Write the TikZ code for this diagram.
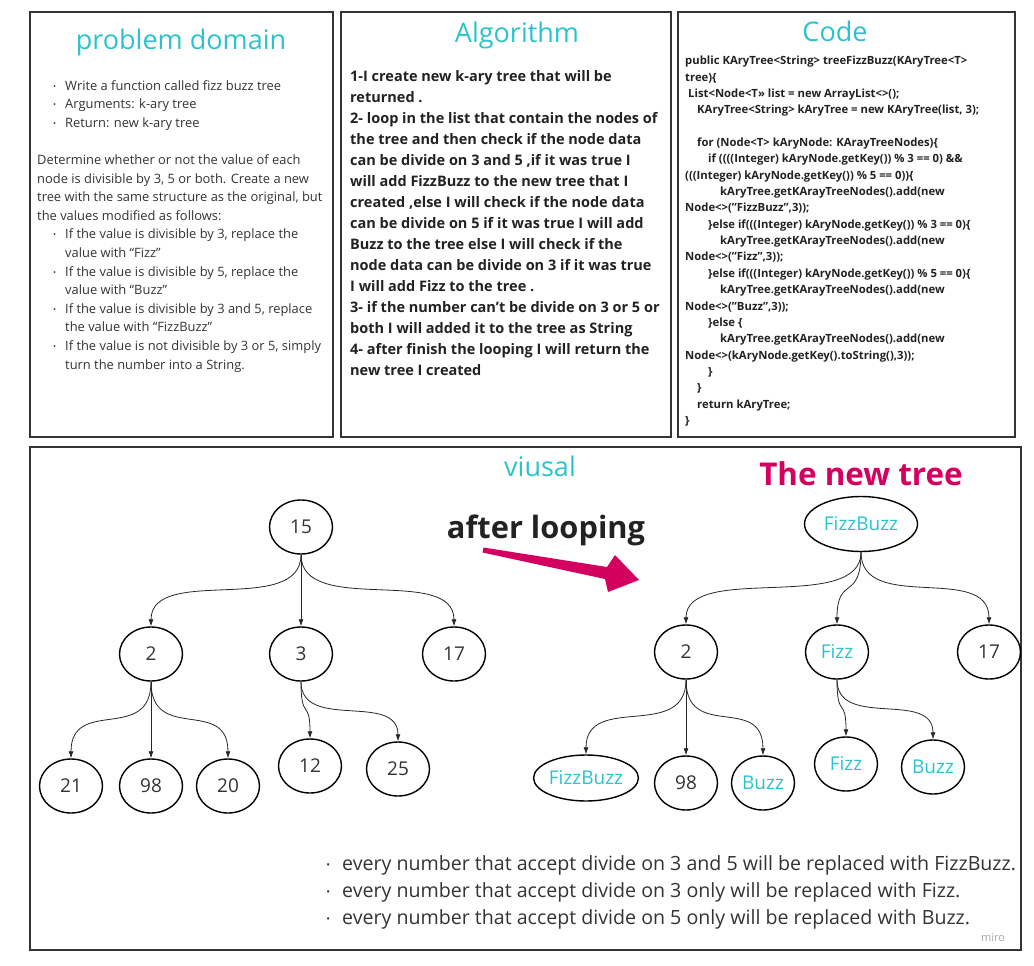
\documentclass[tikz,border=0pt]{standalone}
\usepackage{fontspec}
\setmainfont{Open Sans}
\usetikzlibrary{arrows.meta,shapes.geometric}
\definecolor{titleteal}{HTML}{2BC3CB}
\definecolor{newtreered}{HTML}{D4005F}
\definecolor{inkgray}{HTML}{333333}
\definecolor{inkdark}{HTML}{222222}
\newcommand{\pdbul}{\hspace*{28pt}\llap{\raisebox{1pt}{\fontsize{8}{8}\selectfont •}\hspace{9pt}}}
\newcommand{\nbul}{\llap{\raisebox{2pt}{\fontsize{10}{10}\selectfont •}\hspace{12pt}}}

\begin{document}
\begin{tikzpicture}[
  x=1pt, y=-1pt,
  panel/.style={draw=inkgray, line width=1.6pt},
  paneltitle/.style={font=\fontsize{27}{30}\selectfont, text=titleteal, inner sep=0},
  bodytext/.style={anchor=north west, align=left, inner sep=0, text=inkgray},
  tnode/.style={ellipse, draw=black, line width=1.4pt, minimum width=63pt, minimum height=54pt, inner sep=0, font=\fontsize{19}{22}\selectfont, text=inkgray},
  fbnode/.style={tnode, text=titleteal},
  edge/.style={-{Latex[length=7pt,width=5pt]}, line width=0.8pt, black!85},
  curved/.style={edge, out=-90, in=90, out distance=#1, in distance=#1},
  curved/.default=62
]
\useasboundingbox (0,0) rectangle (1034,966);

% panels
\draw[panel] (30,12) rectangle (333,437);
\draw[panel] (341,12) rectangle (671,437);
\draw[panel] (678,12) rectangle (1015,437);
\draw[panel] (30,447) rectangle (1021,950);

% problem domain
\node[paneltitle] (pdtitle) at (181,42) {problem domain};
\node[bodytext, font=\fontsize{12.9}{18.6}\selectfont] (pdtext) at (37,80) {%
\pdbul Write a function called fizz buzz tree\\
\pdbul Arguments: k-ary tree\\
\pdbul Return: new k-ary tree\\[18.6pt]
Determine whether or not the value of each\\
node is divisible by 3, 5 or both. Create a new\\
tree with the same structure as the original, but\\
the values modified as follows:\\
\pdbul If the value is divisible by 3, replace the\\
\hspace*{28pt}value with “Fizz”\\
\pdbul If the value is divisible by 5, replace the\\
\hspace*{28pt}value with “Buzz”\\
\pdbul If the value is divisible by 3 and 5, replace\\
\hspace*{28pt}the value with “FizzBuzz”\\
\pdbul If the value is not divisible by 3 or 5, simply\\
\hspace*{28pt}turn the number into a String.};

% algorithm
\node[paneltitle] (algtitle) at (517,35) {Algorithm};
\node[bodytext, text=inkdark, font=\bfseries\fontsize{14.5}{21}\selectfont] (algtext) at (350,70) {%
1-I create new k-ary tree that will be\\
returned .\\
2- loop in the list that contain the nodes of\\
the tree and then check if the  node data\\
can be divide on 3 and 5 ,if it was true  I\\
will add FizzBuzz to the new tree that I\\
created ,else I will check if the node data\\
can be divide on 5  if it was true  I will add\\
Buzz to the tree else I will check if the\\
node data can be divide on 3 if it was true\\
I will add Fizz to the tree .\\
3- if the number can't be divide on 3 or 5 or\\
both I will added it to the tree as String\\
4- after finish the looping I will return the\\
new tree I created};

% code
\node[paneltitle] (codetitle) at (835,31) {Code};
\node[bodytext, text=inkdark, font=\bfseries\fontsize{11.3}{16.35}\selectfont] (codetext) at (685,56) {%
public KAryTree<String> treeFizzBuzz(KAryTree<T>\\
tree)\{\\
\hspace*{3pt}List<Node<T>> list = new ArrayList<>();\\
\hspace*{12pt}KAryTree<String> kAryTree = new KAryTree(list, 3);\\
\mbox{}\\
\hspace*{12pt}for (Node<T> kAryNode: KArayTreeNodes)\{\\
\hspace*{23pt}if ((((Integer) kAryNode.getKey()) \% 3 == 0) \&\&\\
(((Integer) kAryNode.getKey()) \% 5 == 0))\{\\
\hspace*{35pt}kAryTree.getKArayTreeNodes().add(new\\
Node<>("FizzBuzz",3));\\
\hspace*{23pt}\}else if(((Integer) kAryNode.getKey()) \% 3 == 0)\{\\
\hspace*{35pt}kAryTree.getKArayTreeNodes().add(new\\
Node<>("Fizz",3));\\
\hspace*{23pt}\}else if(((Integer) kAryNode.getKey()) \% 5 == 0)\{\\
\hspace*{35pt}kAryTree.getKArayTreeNodes().add(new\\
Node<>("Buzz",3));\\
\hspace*{23pt}\}else \{\\
\hspace*{35pt}kAryTree.getKArayTreeNodes().add(new\\
Node<>(kAryNode.getKey().toString(),3));\\
\hspace*{23pt}\}\\
\hspace*{12pt}\}\\
\hspace*{12pt}return kAryTree;\\
\}};

% visual
\node[paneltitle] (vistitle) at (540,466) {viusal};
\node[font=\bfseries\fontsize{31.4}{34}\selectfont, text=newtreered, inner sep=0] (newtitle) at (861,474) {The new tree};
\node[font=\bfseries\fontsize{30.8}{34}\selectfont, text=inkdark, inner sep=0] (looping) at (546,530) {after looping};
\fill[newtreered] (483.5,547.5) -- (607,567) -- (615,555) -- (639,580) -- (608,592) -- (605,579) -- (482.5,552.5) -- cycle;

% original tree
\node[tnode] (o15) at (301,527) {15};
\node[tnode] (o2) at (151,654) {2};
\node[tnode] (o3) at (301,654) {3};
\node[tnode] (o17) at (454,654) {17};
\node[tnode] (o21) at (71,786) {21};
\node[tnode] (o98) at (151,786) {98};
\node[tnode] (o20) at (228,786) {20};
\node[tnode] (o12) at (310,766) {12};
\node[tnode] (o25) at (398,769) {25};
\draw[curved] (o15.south) to (o2.north);
\draw[edge] (o15.south) -- (o3.north);
\draw[curved] (o15.south) to (o17.north);
\draw[curved] (o2.south) to (o21.north);
\draw[edge] (o2.south) -- (o98.north);
\draw[curved] (o2.south) to (o20.north);
\draw[curved=40] (o3.south) to (o12.north);
\draw[curved=50] (o3.south) to (o25.north);

% new tree
\node[fbnode, minimum width=113pt, minimum height=55pt] (nroot) at (861,524) {FizzBuzz};
\node[tnode] (n2) at (686,652) {2};
\node[fbnode] (nfizz) at (837,652) {Fizz};
\node[tnode] (n17) at (989,652) {17};
\node[fbnode, minimum width=104pt, minimum height=46pt] (nfb) at (586,778) {FizzBuzz};
\node[tnode] (n98) at (686,783) {98};
\node[fbnode] (nbuzz) at (763,783) {Buzz};
\node[fbnode] (nfizzb) at (846,764) {Fizz};
\node[fbnode] (nbuzzb) at (933,767) {Buzz};
\draw[curved] (nroot.south) to (n2.north);
\draw[curved=50] (nroot.south) to (nfizz.north);
\draw[curved] (nroot.south) to (n17.north);
\draw[curved] (n2.south) to (nfb.north);
\draw[edge] (n2.south) -- (n98.north);
\draw[curved] (n2.south) to (nbuzz.north);
\draw[curved=40] (nfizz.south) to (nfizzb.north);
\draw[curved=50] (nfizz.south) to (nbuzzb.north);

% notes
\node[bodytext, font=\fontsize{19.6}{27}\selectfont] (notes) at (342,855) {%
\nbul every number that accept divide on  3 and 5 will be replaced with FizzBuzz.\\
\nbul every number that accept divide on  3 only will be replaced with Fizz.\\
\nbul every number that accept divide on  5 only will be replaced with Buzz.};
\node[font=\fontsize{11}{12}\selectfont, text=black!35, inner sep=0] (miro) at (993,938) {miro};
\end{tikzpicture}
\end{document}
